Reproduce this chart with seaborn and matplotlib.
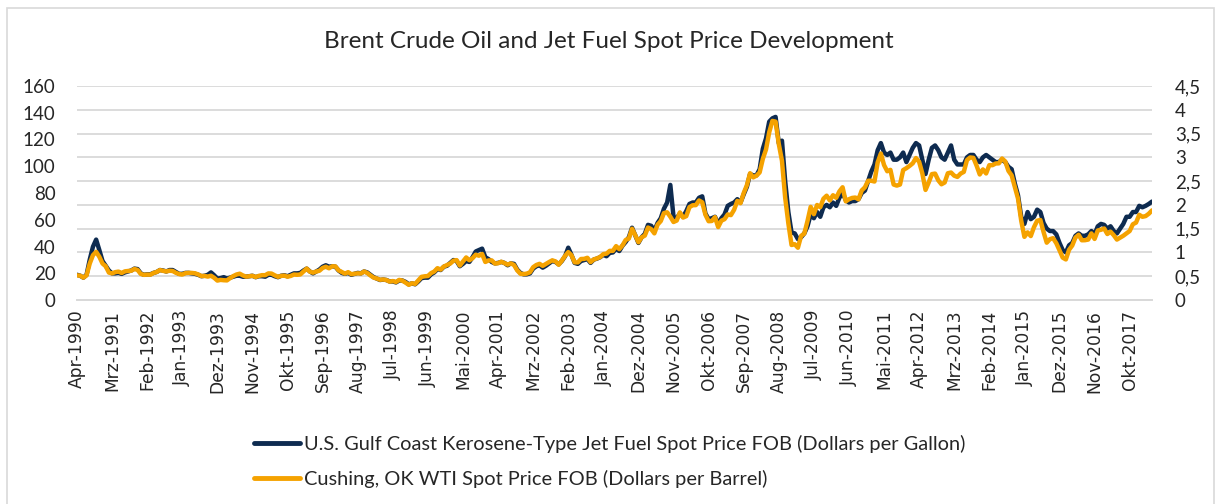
import matplotlib
matplotlib.use("Agg")
import matplotlib.pyplot as plt
import seaborn as sns
from matplotlib.lines import Line2D
from matplotlib.patches import Rectangle
from matplotlib.ticker import FuncFormatter, MultipleLocator

# ==========================
# DATA (monthly, Apr 1990 - May 2018)
# ==========================
# Cushing, OK WTI spot price FOB (USD per barrel) -> left axis
wti = [
    18.43, 18.20, 16.70, 18.45, 27.31, 33.51, 36.04, 32.33, 27.28,                      # 1990 (Apr-Dec)
    25.23, 20.48, 19.90, 20.83, 21.23, 20.19, 21.40, 21.69, 21.89, 23.23, 22.46, 19.50,  # 1991
    18.79, 19.01, 18.92, 20.23, 20.98, 22.39, 21.78, 21.34, 21.88, 21.69, 20.34, 19.41,  # 1992
    19.03, 20.09, 20.32, 20.25, 19.95, 19.09, 17.89, 18.01, 17.50, 18.15, 16.61, 14.52,  # 1993
    15.03, 14.78, 14.66, 16.38, 17.89, 19.06, 19.66, 18.38, 17.45, 17.72, 18.07, 17.16,  # 1994
    18.04, 18.57, 18.54, 19.90, 19.74, 18.45, 17.33, 18.02, 18.23, 17.43, 17.99, 19.03,  # 1995
    18.85, 19.09, 21.33, 23.50, 21.17, 20.42, 21.30, 21.90, 23.97, 24.88, 23.71, 25.23,  # 1996
    25.13, 22.18, 20.97, 19.70, 20.82, 19.26, 19.66, 19.95, 19.80, 21.33, 20.19, 18.33,  # 1997
    16.72, 16.06, 15.12, 15.35, 14.91, 13.72, 14.17, 13.47, 15.03, 14.46, 13.00, 11.35,  # 1998
    12.52, 12.01, 14.68, 17.31, 17.72, 17.92, 20.10, 21.28, 23.80, 22.69, 25.00, 26.10,  # 1999
    27.26, 29.37, 29.84, 25.72, 28.79, 31.82, 29.70, 31.26, 33.88, 33.11, 34.42, 28.44,  # 2000
    29.59, 29.61, 27.25, 27.49, 28.63, 27.60, 26.43, 27.37, 26.20, 22.17, 19.64, 19.39,  # 2001
    19.72, 20.72, 24.53, 26.18, 27.04, 25.52, 26.97, 28.39, 29.66, 28.84, 26.35, 29.46,  # 2002
    32.95, 35.83, 33.51, 28.17, 28.11, 30.66, 30.75, 31.57, 28.31, 30.34, 31.11, 32.13,  # 2003
    34.31, 34.69, 36.74, 36.75, 40.28, 38.03, 40.78, 44.90, 45.94, 53.28, 48.47, 43.15,  # 2004
    46.84, 48.15, 54.19, 52.98, 49.83, 56.35, 59.00, 64.99, 65.59, 62.26, 58.32, 59.41,  # 2005
    65.49, 61.63, 62.69, 69.44, 70.84, 70.95, 74.41, 73.04, 63.80, 58.89, 59.08, 61.96,  # 2006
    54.51, 59.28, 60.44, 63.98, 63.46, 67.49, 74.12, 72.36, 79.92, 85.80, 94.77, 91.69,  # 2007
    92.97, 95.39, 105.45, 112.58, 125.40, 133.88, 133.37, 116.67, 104.11, 76.61, 57.31, 41.12,  # 2008
    41.71, 39.09, 47.94, 49.65, 59.03, 69.64, 64.15, 71.05, 69.41, 75.72, 77.99, 74.47,  # 2009
    78.33, 76.39, 81.20, 84.29, 73.74, 75.34, 76.32, 76.60, 75.24, 81.89, 84.25, 89.15,  # 2010
    89.17, 88.58, 102.86, 109.53, 100.90, 96.26, 97.30, 86.33, 85.52, 86.32, 97.16, 98.56,  # 2011
    100.27, 102.20, 106.16, 103.32, 94.66, 82.30, 87.90, 94.13, 94.51, 89.49, 86.53, 87.86,  # 2012
    94.76, 95.31, 92.94, 92.02, 94.51, 95.77, 104.67, 106.57, 106.29, 100.54, 93.86, 97.63,  # 2013
    94.62, 100.82, 100.80, 102.07, 102.18, 105.79, 103.59, 96.54, 93.21, 84.40, 75.79, 59.29,  # 2014
    47.22, 50.58, 47.82, 54.45, 59.27, 59.82, 50.90, 42.87, 45.48, 46.22, 42.44, 37.19,  # 2015
    31.68, 30.32, 37.55, 40.75, 46.71, 48.76, 44.65, 44.72, 45.18, 49.78, 45.66, 51.97,  # 2016
    52.50, 53.47, 49.33, 51.06, 48.48, 45.18, 46.63, 48.04, 49.82, 51.58, 56.64, 57.88,  # 2017
    63.70, 62.23, 62.73, 64.50, 67.00,                                                   # 2018 (Jan-May)
]

# U.S. Gulf Coast kerosene-type jet fuel spot price FOB (USD per gallon) -> right axis
jet_fuel = [
    0.53, 0.51, 0.47, 0.53, 0.85, 1.12, 1.27, 1.05, 0.82,                   # 1990 (Apr-Dec)
    0.72, 0.62, 0.56, 0.56, 0.57, 0.55, 0.58, 0.60, 0.62, 0.66, 0.65, 0.56,  # 1991
    0.53, 0.54, 0.54, 0.57, 0.59, 0.63, 0.62, 0.60, 0.63, 0.63, 0.59, 0.55,  # 1992
    0.55, 0.57, 0.57, 0.56, 0.55, 0.53, 0.50, 0.51, 0.53, 0.58, 0.52, 0.45,  # 1993
    0.46, 0.48, 0.45, 0.47, 0.49, 0.51, 0.51, 0.49, 0.49, 0.50, 0.51, 0.48,  # 1994
    0.50, 0.50, 0.49, 0.53, 0.53, 0.50, 0.48, 0.51, 0.52, 0.50, 0.53, 0.56,  # 1995
    0.56, 0.57, 0.62, 0.66, 0.60, 0.56, 0.60, 0.64, 0.70, 0.73, 0.70, 0.71,  # 1996
    0.70, 0.62, 0.57, 0.55, 0.57, 0.53, 0.55, 0.57, 0.56, 0.60, 0.58, 0.53,  # 1997
    0.48, 0.45, 0.42, 0.43, 0.42, 0.39, 0.39, 0.37, 0.41, 0.41, 0.38, 0.33,  # 1998
    0.35, 0.33, 0.39, 0.46, 0.47, 0.47, 0.54, 0.58, 0.65, 0.63, 0.70, 0.72,  # 1999
    0.78, 0.84, 0.82, 0.71, 0.76, 0.82, 0.80, 0.90, 1.02, 1.05, 1.08, 0.90,  # 2000
    0.86, 0.80, 0.77, 0.78, 0.80, 0.78, 0.73, 0.77, 0.76, 0.64, 0.57, 0.54,  # 2001
    0.54, 0.56, 0.66, 0.71, 0.73, 0.68, 0.72, 0.77, 0.82, 0.80, 0.75, 0.82,  # 2002
    0.92, 1.10, 0.95, 0.78, 0.76, 0.82, 0.84, 0.86, 0.78, 0.85, 0.87, 0.90,  # 2003
    0.95, 0.92, 0.99, 1.00, 1.08, 1.03, 1.14, 1.22, 1.32, 1.52, 1.36, 1.20,  # 2004
    1.32, 1.39, 1.58, 1.56, 1.46, 1.62, 1.72, 1.92, 2.05, 2.42, 1.75, 1.72,  # 2005
    1.82, 1.75, 1.87, 2.02, 2.05, 2.05, 2.15, 2.18, 1.82, 1.70, 1.72, 1.75,  # 2006
    1.60, 1.72, 1.80, 1.98, 2.02, 2.05, 2.12, 2.05, 2.22, 2.38, 2.65, 2.62,  # 2007
    2.62, 2.75, 3.18, 3.40, 3.75, 3.82, 3.85, 3.30, 3.35, 2.50, 1.85, 1.42,  # 2008
    1.40, 1.28, 1.32, 1.40, 1.55, 1.80, 1.72, 1.85, 1.75, 1.95, 2.00, 1.95,  # 2009
    2.05, 1.98, 2.15, 2.25, 2.10, 2.05, 2.08, 2.08, 2.12, 2.25, 2.30, 2.50,  # 2010
    2.70, 2.85, 3.15, 3.30, 3.10, 3.05, 3.10, 2.95, 2.95, 3.00, 3.10, 2.90,  # 2011
    3.05, 3.20, 3.30, 3.25, 2.95, 2.65, 2.95, 3.20, 3.25, 3.15, 3.00, 2.95,  # 2012
    3.10, 3.25, 2.95, 2.85, 2.85, 2.85, 3.00, 3.05, 3.05, 2.95, 2.90, 3.00,  # 2013
    3.05, 3.00, 2.95, 2.90, 2.90, 2.95, 2.90, 2.80, 2.75, 2.45, 2.20, 1.75,  # 2014
    1.60, 1.85, 1.70, 1.75, 1.90, 1.85, 1.62, 1.50, 1.45, 1.45, 1.38, 1.20,  # 2015
    1.05, 1.00, 1.15, 1.20, 1.35, 1.40, 1.35, 1.35, 1.38, 1.45, 1.38, 1.55,  # 2016
    1.60, 1.58, 1.50, 1.55, 1.45, 1.40, 1.50, 1.60, 1.75, 1.75, 1.85, 1.85,  # 2017
    1.98, 1.95, 1.98, 2.02, 2.07,                                           # 2018 (Jan-May)
]

tick_labels = [
    "Apr-1990", "Mrz-1991", "Feb-1992", "Jan-1993", "Dez-1993", "Nov-1994",
    "Okt-1995", "Sep-1996", "Aug-1997", "Jul-1998", "Jun-1999", "Mai-2000",
    "Apr-2001", "Mrz-2002", "Feb-2003", "Jan-2004", "Dez-2004", "Nov-2005",
    "Okt-2006", "Sep-2007", "Aug-2008", "Jul-2009", "Jun-2010", "Mai-2011",
    "Apr-2012", "Mrz-2013", "Feb-2014", "Jan-2015", "Dez-2015", "Nov-2016",
    "Okt-2017",
]

label_jet = "U.S. Gulf Coast Kerosene-Type Jet Fuel Spot Price FOB (Dollars per Gallon)"
label_wti = "Cushing, OK WTI Spot Price FOB (Dollars per Barrel)"

# ==========================
# STYLE
# ==========================
sns.set_style("white")
plt.rcParams['font.family'] = ['Lato', 'DejaVu Sans']

NAVY = "#0e2b50"
ORANGE = "#f5a200"
GRID = "#d9d9d9"

months = list(range(len(wti)))

fig = plt.figure(figsize=(12.17, 5.04), dpi=100)
ax = fig.add_axes([77 / 1217, 1 - 300 / 504, (1152 - 77) / 1217, 214 / 504])
ax2 = ax.twinx()

# navy series + grid live on the right axis, drawn behind the orange one
ax.set_zorder(ax2.get_zorder() + 1)
ax.patch.set_visible(False)

sns.lineplot(x=months, y=jet_fuel, ax=ax2, color=NAVY, linewidth=3.2)
sns.lineplot(x=months, y=wti, ax=ax, color=ORANGE, linewidth=3.2)

ax.set_xlim(0, len(wti) - 1)
ax.set_ylim(0, 160)
ax2.set_ylim(0, 4.5)
ax.yaxis.set_major_locator(MultipleLocator(20))
ax2.yaxis.set_major_locator(MultipleLocator(0.5))
ax2.yaxis.set_major_formatter(FuncFormatter(lambda v, p: f"{v:g}".replace(".", ",")))

ax2.grid(axis="y", color=GRID, linewidth=1.3)
ax2.grid(axis="x", visible=False)
ax.grid(False)

ax.set_xticks(range(0, len(wti), 11))
ax.set_xticklabels(tick_labels, rotation=90, family="DejaVu Sans", fontsize=12.3)
ax.tick_params(axis="x", length=5, color=GRID, width=1, pad=2)
ax.tick_params(axis="y", length=0, labelsize=13.5, pad=15.5)
ax2.tick_params(axis="y", length=0, labelsize=13.5, pad=16.5)
ax.set_xlabel("")
ax.set_ylabel("")
ax2.set_ylabel("")

for a in (ax, ax2):
    for side in ("top", "left", "right"):
        a.spines[side].set_visible(False)
    a.spines["bottom"].set_color(GRID)
    a.spines["bottom"].set_linewidth(1.3)

fig.text(0.5, 1 - 42 / 504, "Brent Crude Oil and Jet Fuel Spot Price Development",
         ha="center", va="center", fontsize=17.5)

handles = [Line2D([0], [0], color=NAVY, linewidth=3.5),
           Line2D([0], [0], color=ORANGE, linewidth=3.5)]
fig.legend(handles, [label_jet, label_wti], loc="upper left",
           bbox_to_anchor=(236 / 1217, 1 - 417 / 504), frameon=False,
           fontsize=14.4, handlelength=2.3, handletextpad=0.2, labelspacing=0.85)

# thin outer frame
fig.patches.append(Rectangle((7 / 1217, -0.05), (1214 - 7) / 1217, 1.05 - 8 / 504,
                             transform=fig.transFigure, fill=False,
                             edgecolor=GRID, linewidth=1.2))

fig.savefig("out.png", dpi=100)
